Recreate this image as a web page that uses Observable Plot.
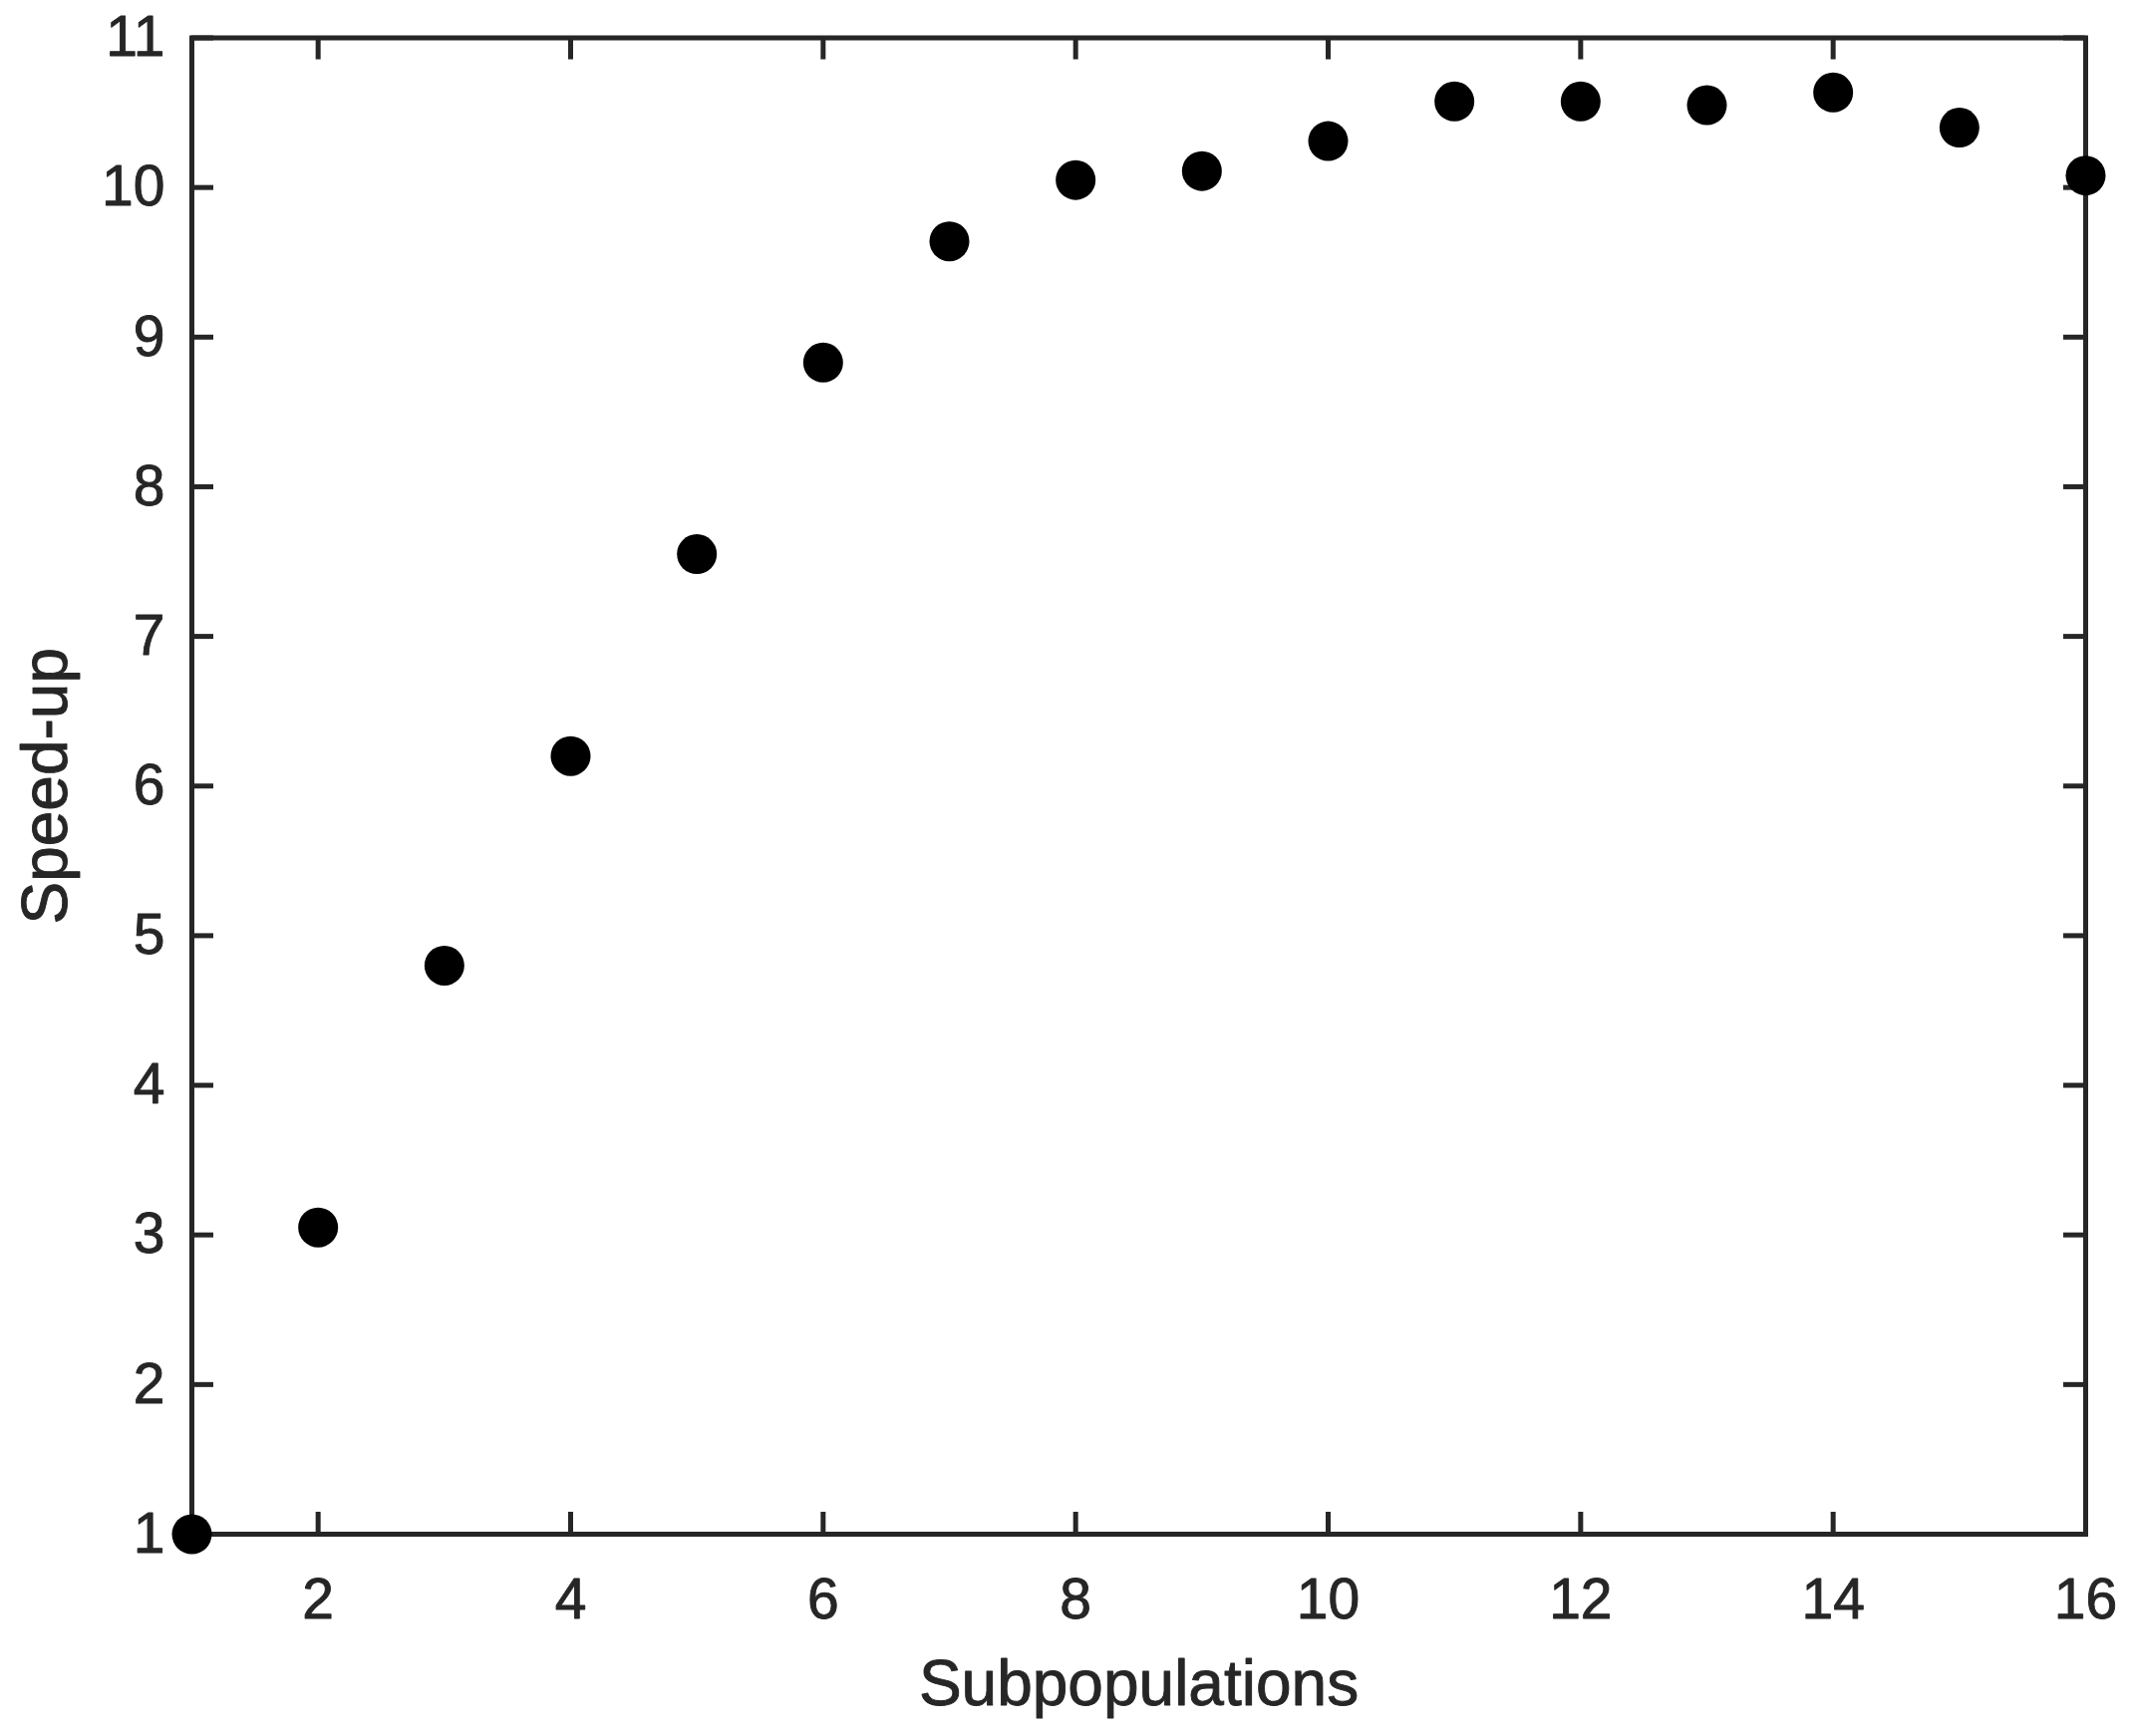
<!DOCTYPE html>
<html>
<head>
<meta charset="utf-8">
<script src="https://cdn.jsdelivr.net/npm/d3@7"></script>
<script src="https://cdn.jsdelivr.net/npm/@observablehq/plot@0.6"></script>
<style>
  html, body { margin: 0; padding: 0; background: #fff; }
  #chart svg text { stroke: #262626; stroke-width: 0.9px; stroke-linejoin: round; }
</style>
</head>
<body>
<div id="chart"></div>
<script>
const subpopulations = [1, 2, 3, 4, 5, 6, 7, 8, 9, 10, 11, 12, 13, 14, 15, 16];
const speedup = [1.0, 3.05, 4.80, 6.20, 7.55, 8.83, 9.64, 10.05, 10.11, 10.31, 10.575, 10.575, 10.55, 10.635, 10.40, 10.08];
const xTicks = [2, 4, 6, 8, 10, 12, 14, 16];
const yTicks = [1, 2, 3, 4, 5, 6, 7, 8, 9, 10, 11];
const xLabel = "Subpopulations";
const yLabel = "Speed-up";

const data = subpopulations.map((s, i) => ({s, v: speedup[i]}));

const W = 2143, H = 1742;
const mL = 192, mR = 51, mT = 37.5, mB = 203;
const plotW = W - mL - mR, plotH = H - mT - mB;
const tickLen = 22;
const axisColor = "#262626";

const chart = Plot.plot({
  width: W,
  height: H,
  marginLeft: mL,
  marginRight: mR,
  marginTop: mT,
  marginBottom: mB,
  style: {fontFamily: "'Liberation Sans', Arial, sans-serif", color: axisColor, background: "#fff"},
  x: {domain: [1, 16], axis: null},
  y: {domain: [1, 11], axis: null},
  marks: [
    Plot.ruleX(xTicks, {x: d => d, insetTop: plotH - tickLen, stroke: axisColor, strokeWidth: 5}),
    Plot.ruleX(xTicks, {x: d => d, insetBottom: plotH - tickLen, stroke: axisColor, strokeWidth: 5}),
    Plot.ruleY(yTicks, {y: d => d, insetRight: plotW - tickLen, stroke: axisColor, strokeWidth: 5}),
    Plot.ruleY(yTicks, {y: d => d, insetLeft: plotW - tickLen, stroke: axisColor, strokeWidth: 5}),
    Plot.frame({stroke: axisColor, strokeWidth: 5}),
    Plot.axisX(xTicks, {anchor: "bottom", tickSize: 0, tickPadding: 44, fontSize: 57, label: null, tickFormat: d => String(d)}),
    Plot.axisY(yTicks, {anchor: "left", tickSize: 0, tickPadding: 27, fontSize: 57, label: null, tickFormat: d => String(d)}),
    Plot.text([xLabel], {text: d => d, frameAnchor: "bottom", dy: 151, lineAnchor: "middle", textAnchor: "middle", fontSize: 64, fill: axisColor}),
    Plot.text([yLabel], {text: d => d, frameAnchor: "left", dx: -146, rotate: -90, lineAnchor: "middle", textAnchor: "middle", fontSize: 64, fill: axisColor}),
    Plot.dot(data, {x: "s", y: "v", r: 20, fill: "#000", stroke: null, clip: false})
  ]
});
document.getElementById("chart").appendChild(chart);
</script>
</body>
</html>
